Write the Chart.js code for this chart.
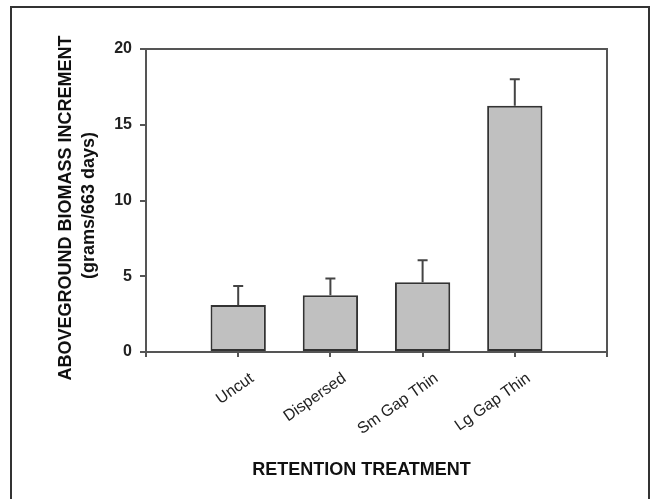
<!DOCTYPE html>
<html>
<head>
<meta charset="utf-8">
<script src="https://cdn.jsdelivr.net/npm/chart.js@4.4.0/dist/chart.umd.min.js"></script>
<style>
  html, body { margin: 0; padding: 0; background: #ffffff; }
  #wrap { width: 650px; height: 499px; }
</style>
</head>
<body>
<div id="wrap"><canvas id="c" width="650" height="499"></canvas></div>
<script>
// Data
const categories = ['', 'Uncut', 'Dispersed', 'Sm Gap Thin', 'Lg Gap Thin', ''];
const biomassIncrement = [null, 3.1, 3.75, 4.6, 16.25, null];
const standardError = [null, 1.25, 1.1, 1.45, 1.75, null];
const yTicks = [0, 5, 10, 15, 20];

const frameAndBorder = {
  id: 'frameAndBorder',
  beforeDraw(chart) {
    const ctx = chart.ctx;
    ctx.save();
    ctx.fillStyle = '#ffffff';
    ctx.fillRect(0, 0, chart.width, chart.height);
    ctx.strokeStyle = '#333333';
    ctx.lineWidth = 2;
    ctx.strokeRect(11, 7, 638, 510);
    ctx.restore();
  },
  afterDraw(chart) {
    const a = chart.chartArea;
    const ctx = chart.ctx;
    ctx.save();
    ctx.strokeStyle = '#555555';
    ctx.lineWidth = 2;
    ctx.beginPath();
    ctx.moveTo(a.left, a.top);
    ctx.lineTo(a.right, a.top);
    ctx.lineTo(a.right, a.bottom);
    ctx.stroke();
    ctx.restore();
  }
};

const errorBars = {
  id: 'errorBars',
  afterDatasetsDraw(chart) {
    const ctx = chart.ctx;
    const meta = chart.getDatasetMeta(0);
    const y = chart.scales.y;
    ctx.save();
    ctx.strokeStyle = '#444444';
    ctx.lineWidth = 2;
    meta.data.forEach((bar, i) => {
      const v = biomassIncrement[i];
      const e = standardError[i];
      if (v == null || e == null) return;
      const yb = y.getPixelForValue(v);
      const yt = y.getPixelForValue(v + e);
      ctx.beginPath();
      ctx.moveTo(bar.x, yb);
      ctx.lineTo(bar.x, yt);
      ctx.moveTo(bar.x - 5, yt);
      ctx.lineTo(bar.x + 5, yt);
      ctx.stroke();
    });
    ctx.restore();
  }
};

new Chart(document.getElementById('c'), {
  type: 'bar',
  data: {
    labels: categories,
    datasets: [{
      data: biomassIncrement,
      backgroundColor: '#c0c0c0',
      borderColor: '#333333',
      borderWidth: 2,
      borderSkipped: false,
      barPercentage: 1,
      categoryPercentage: 0.6
    }]
  },
  options: {
    responsive: false,
    animation: false,
    devicePixelRatio: 1,
    layout: { padding: { left: 0, top: 49, right: 43, bottom: 0 } },
    plugins: { legend: { display: false }, tooltip: { enabled: false } },
    scales: {
      x: {
        offset: false,
        grid: { display: true, offset: false, drawOnChartArea: false, drawTicks: true, tickLength: 5, color: '#555555', lineWidth: 2 },
        border: { display: true, color: '#555555', width: 2 },
        ticks: {
          color: '#222222',
          font: { family: 'Liberation Sans, Arial, sans-serif', size: 16 },
          minRotation: 35, maxRotation: 35, padding: 12, labelOffset: 14, autoSkip: false
        },
        title: {
          display: true,
          text: 'RETENTION TREATMENT      ',
          color: '#111111',
          font: { family: 'Liberation Sans, Arial, sans-serif', size: 18, weight: 'bold' },
          padding: { top: 0, bottom: 18 }
        },
        afterFit(scale) { scale.height = 147; }
      },
      y: {
        min: 0, max: 20,
        afterBuildTicks(scale) { scale.ticks = yTicks.map(v => ({ value: v })); },
        grid: { display: true, drawOnChartArea: false, drawTicks: true, tickLength: 6, color: '#555555', lineWidth: 2 },
        border: { display: true, color: '#555555', width: 2 },
        ticks: {
          color: '#222222',
          font: { family: 'Liberation Sans, Arial, sans-serif', size: 16, weight: 'bold' },
          padding: 8
        },
        title: {
          display: true,
          text: ['ABOVEGROUND BIOMASS INCREMENT   ', '(grams/663 days)  '],
          color: '#111111',
          font: { family: 'Liberation Sans, Arial, sans-serif', size: 18, weight: 'bold', lineHeight: 1.3 },
          padding: { top: 54, bottom: 0 }
        },
        afterFit(scale) { scale.width = 146; }
      }
    }
  },
  plugins: [frameAndBorder, errorBars]
});
</script>
</body>
</html>
